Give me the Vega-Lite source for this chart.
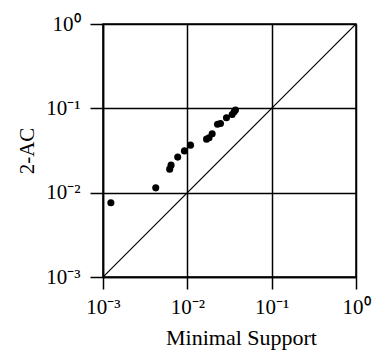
{
  "$schema": "https://vega.github.io/schema/vega-lite/v6.json",
  "width": 253,
  "height": 253,
  "autosize": {"type": "none"},
  "padding": {"left": 103, "top": 24, "right": 16, "bottom": 81},
  "background": "white",
  "config": {
    "view": {"stroke": "black", "strokeWidth": 1.5},
    "font": "Liberation Serif",
    "axis": {"titleColor": "#000000", "labelColor": "#000000"}
  },
  "datasets": {
    "points": [
      {"support": 0.00124, "ac": 0.0076},
      {"support": 0.00422, "ac": 0.0114},
      {"support": 0.00618, "ac": 0.0190},
      {"support": 0.00641, "ac": 0.0212},
      {"support": 0.00769, "ac": 0.0264},
      {"support": 0.00924, "ac": 0.0313},
      {"support": 0.0109, "ac": 0.0366},
      {"support": 0.0169, "ac": 0.0431},
      {"support": 0.0181, "ac": 0.0447},
      {"support": 0.0197, "ac": 0.0499},
      {"support": 0.0228, "ac": 0.0649},
      {"support": 0.0247, "ac": 0.0660},
      {"support": 0.0291, "ac": 0.0773},
      {"support": 0.0340, "ac": 0.0845},
      {"support": 0.0359, "ac": 0.0910},
      {"support": 0.0372, "ac": 0.0953}
    ],
    "diag": [
      {"support": 0.001, "ac": 0.001},
      {"support": 1, "ac": 1}
    ]
  },
  "layer": [
    {
      "data": {"name": "diag"},
      "mark": {"type": "line", "color": "black", "strokeWidth": 1.2, "clip": true},
      "encoding": {
        "x": {
          "field": "support", "type": "quantitative",
          "scale": {"type": "log", "domain": [0.001, 1], "nice": false},
          "axis": {
            "title": "Minimal Support",
            "values": [0.001, 0.01, 0.1, 1],
            "labelExpr": "datum.value == 1 ? '10⁰' : datum.value > 0.05 ? '10⁻¹' : datum.value > 0.005 ? '10⁻²' : '10⁻³'",
            "grid": true, "gridColor": "black", "gridOpacity": 1, "gridWidth": 1.5,
            "domainColor": "black", "domainWidth": 1.5,
            "tickColor": "black", "tickWidth": 1.5, "tickSize": 12,
            "labelFont": "Liberation Serif", "labelFontSize": 21, "labelColor": "black",
            "labelPadding": 7, "labelFlush": false, "labelOverlap": false,
            "titleFont": "Liberation Serif", "titleFontSize": 22, "titleFontWeight": "normal", "titleColor": "black",
            "titlePadding": 10, "titleX": 138
          }
        },
        "y": {
          "field": "ac", "type": "quantitative",
          "scale": {"type": "log", "domain": [0.001, 1], "nice": false},
          "axis": {
            "title": "2-AC",
            "values": [0.001, 0.01, 0.1, 1],
            "labelExpr": "datum.value == 1 ? '10⁰' : datum.value > 0.05 ? '10⁻¹' : datum.value > 0.005 ? '10⁻²' : '10⁻³'",
            "grid": true, "gridColor": "black", "gridOpacity": 1, "gridWidth": 1.5,
            "domainColor": "black", "domainWidth": 1.5,
            "tickColor": "black", "tickWidth": 1.5, "tickSize": 13,
            "labelFont": "Liberation Serif", "labelFontSize": 21, "labelColor": "black",
            "labelPadding": 10, "labelFlush": false, "labelOverlap": false,
            "titleFont": "Liberation Serif", "titleFontSize": 21, "titleFontWeight": "normal", "titleColor": "black",
            "titlePadding": 8
          }
        }
      }
    },
    {
      "data": {"name": "points"},
      "mark": {"type": "circle", "color": "black", "opacity": 1, "size": 50},
      "encoding": {
        "x": {"field": "support", "type": "quantitative"},
        "y": {"field": "ac", "type": "quantitative"}
      }
    }
  ]
}
